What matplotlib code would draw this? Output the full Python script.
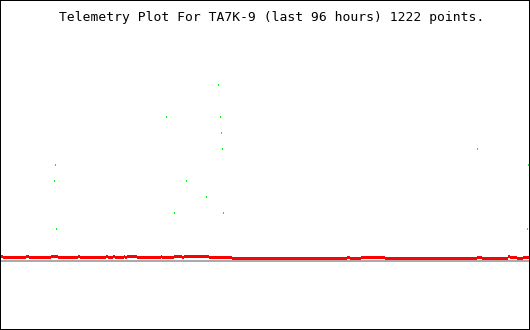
"""Telemetry plot for TA7K-9 over the last 96 hours, drawn as a plain 530x330 panel."""

import matplotlib

matplotlib.use("Agg")
import matplotlib.pyplot as plt
import numpy as np
from matplotlib.patches import Rectangle

TITLE = "Telemetry Plot For TA7K-9 (last 96 hours) 1222 points."

# red trace: step breakpoints (hours) and the level held from each one
red_hours = [0, 0.55, 4.73, 5.27, 9.27, 10.55, 14.18, 14.55, 19.27, 19.64, 20.55, 20.91,
             22.55, 22.73, 23.09, 24.91, 29.27, 29.45, 30.18, 31.64, 33.09, 33.45, 38.0,
             42.18, 63.09, 63.64, 65.64, 70.0, 86.73, 87.64, 92.36, 92.73, 94.0, 95.09, 96.4]
red_level = [0.281, 0.219, 0.281, 0.219, 0.281, 0.219, 0.281, 0.219, 0.281, 0.219, 0.281, 0.219,
             0.281, 0.219, 0.281, 0.219, 0.281, 0.219, 0.219, 0.281, 0.219, 0.281, 0.219,
             0.156, 0.219, 0.156, 0.219, 0.156, 0.219, 0.156, 0.281, 0.219, 0.156, 0.219, 0.219]

# green sparse samples
green_hours = [10.0, 9.82, 10.18, 30.18, 39.64, 40.0, 40.18, 40.36,
               33.82, 37.45, 31.64, 40.55, 86.73, 96.0, 95.82]
green_value = [6, 5, 2, 9, 11, 9, 8, 7, 5, 4, 3, 3, 7, 6, 2]

# reference (zero) line
ref_hours = [0, 96.4]
ref_value = [0, 0]

W, H = 530, 330
Y0 = 261        # pixel row below the zero line centre
UNIT = 16       # pixels per value unit
HOUR = 5.5      # pixels per hour
PAD = 0.1       # small overshoot so unantialiased fills keep their full pixels

fig = plt.figure(figsize=(W / 100, H / 100), dpi=100, facecolor="white")
ax = fig.add_axes([0, 0, 1, 1])
ax.set_xlim(0, W / HOUR)
ax.set_ylim((Y0 - H) / UNIT, Y0 / UNIT)
ax.axis("off")

ref = np.array(ref_value, dtype=float)
ax.fill_between(ref_hours, ref - (1 + PAD) / UNIT, ref + (1 + PAD) / UNIT,
                color="#aaaaaa", lw=0, antialiased=False)

red = np.array(red_level)
ax.fill_between(red_hours, red - 1.5 / UNIT, red + 1.5 / UNIT, step="post",
                color="#ff0000", lw=0, antialiased=False)

# each green sample is a 1x2 pixel block
green = np.array(green_value, dtype=float)
gx = np.array(green_hours) - PAD / HOUR
ax.bar(gx, (2 + 2 * PAD) / UNIT, bottom=green - (1 + PAD) / UNIT,
       width=(1 + 2 * PAD) / HOUR, align="edge", color="#00ff00", lw=0,
       antialiased=False)

fig.text(272 / W, 1 - 17 / H, TITLE, ha="center", va="center",
         family="DejaVu Sans Mono", fontsize=9.35, color="black")

# one-pixel black frame around the whole image
for x0, y0, w, h in [(0, 0, 1, H), (W - 1, 0, 1, H), (0, 0, W, 1), (0, H - 1, W, 1)]:
    fig.add_artist(Rectangle((x0 / W, y0 / H), w / W, h / H,
                             transform=fig.transFigure, facecolor="black",
                             lw=0, antialiased=False))

fig.savefig("out.png", dpi=100, facecolor="white")
